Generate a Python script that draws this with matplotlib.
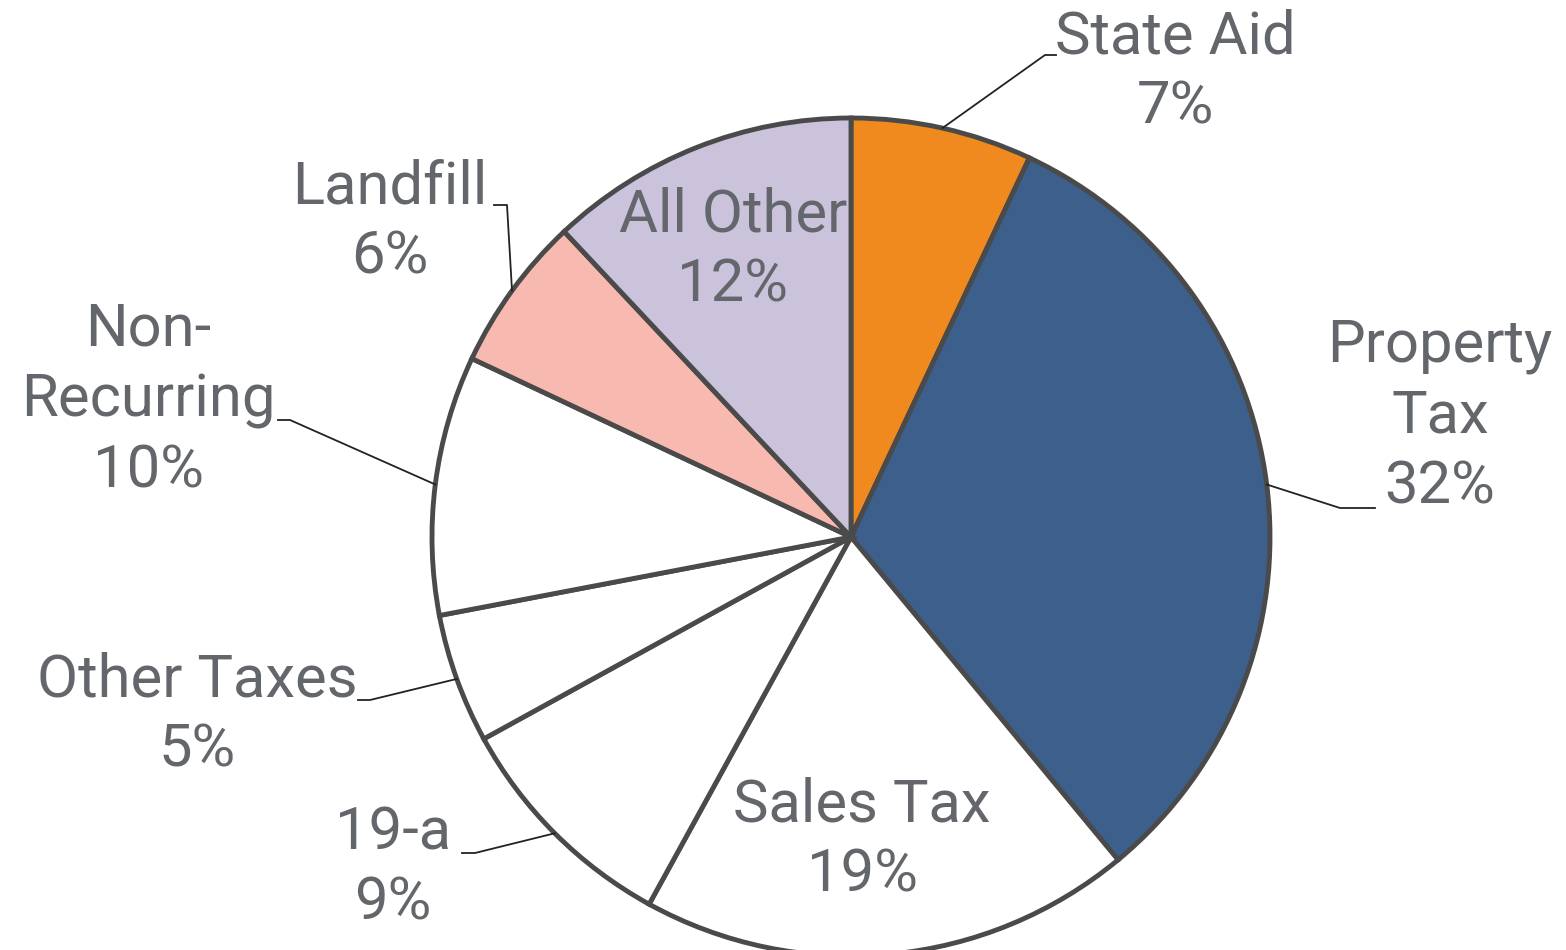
import numpy as np
import matplotlib.pyplot as plt
from matplotlib import font_manager

W, H = 1566, 950

categories = ["State Aid", "Property\nTax", "Sales Tax", "19-a", "Other Taxes",
              "Non-\nRecurring", "Landfill", "All Other"]
shares = [7, 32, 19, 9, 5, 10, 6, 12]
colors = ["#f08a1e", "#3d5f8c", "#ffffff", "#ffffff", "#ffffff",
          "#ffffff", "#f8b9b0", "#cbc2dc"]

# layout (pixel coords, y down): label centre, leader elbow, leader end
label_pos = [(1175, 72), (1440, 416), (862, 840), (393, 868), (197, 715),
             (148, 400), (390, 222), (733, 250)]
elbows = [(1045, 55), (1340, 508), None, (475, 853), (370, 700),
          (290, 420), (507, 205), None]
ends = [(1056, 55), (1375, 508), None, (462, 853), (358, 700),
        (278, 420), (494, 205), None]

center = (851, 537)
radius = 419

fams = {f.name for f in font_manager.fontManager.ttflist}
plt.rcParams["font.family"] = ["Roboto" if "Roboto" in fams else "DejaVu Sans"]


def px(x, y):
    return x, H - y


fig = plt.figure(figsize=(W / 100, H / 100), dpi=100)
ax = fig.add_axes([0, 0, 1, 1])

wedges, _ = ax.pie(shares, colors=colors, startangle=90, counterclock=False,
                   center=px(*center), radius=radius, frame=True,
                   wedgeprops=dict(edgecolor="#4a4a4a", linewidth=3.5))
ax.set_xlim(0, W)
ax.set_ylim(0, H)
ax.set_aspect("equal")
ax.set_axis_off()

cum = np.cumsum([0] + shares[:-1])
total = sum(shares)
for i, (cat, val) in enumerate(zip(categories, shares)):
    ax.text(*px(*label_pos[i]), f"{cat}\n{val}%", ha="center", va="center",
            fontsize=43, fontweight="normal", color="#63666b", linespacing=1.3)
    if elbows[i] is None:
        continue
    mid = (cum[i] + val / 2) / total * 2 * np.pi
    sx = center[0] + radius * np.sin(mid)
    sy = center[1] - radius * np.cos(mid)
    xs = [sx, elbows[i][0], ends[i][0]]
    ys = [H - sy, H - elbows[i][1], H - ends[i][1]]
    ax.plot(xs, ys, color="#222222", lw=1.3)

fig.savefig("out.png", dpi=100)
